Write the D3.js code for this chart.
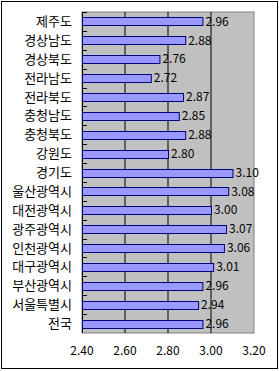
<!DOCTYPE html>
<html>
<head>
<meta charset="utf-8">
<script src="https://cdn.jsdelivr.net/npm/d3@7"></script>
<style>
  body { margin: 0; background: #fff; }
  svg text { font-family: "Noto Sans CJK KR", "DejaVu Sans", sans-serif; fill: #000; }
</style>
</head>
<body>
<div id="chart"></div>
<script>
// regions, top to bottom as drawn
const regions = ['제주도', '경상남도', '경상북도', '전라남도', '전라북도', '충청남도', '충청북도', '강원도',
  '경기도', '울산광역시', '대전광역시', '광주광역시', '인천광역시', '대구광역시', '부산광역시', '서울특별시', '전국']
const scores = [2.96, 2.88, 2.76, 2.72, 2.87, 2.85, 2.88, 2.80,
  3.10, 3.08, 3.00, 3.07, 3.06, 3.01, 2.96, 2.94, 2.96]
const xTicks = [2.40, 2.60, 2.80, 3.00, 3.20]

const width = 279, height = 371
const margin = {top: 12, right: 25, bottom: 38, left: 82}
const plotWidth = width - margin.left - margin.right
const plotHeight = height - margin.top - margin.bottom

const data = regions.map((name, i) => ({name, value: scores[i]}))

const svg = d3.select('#chart').append('svg')
    .attr('width', width)
    .attr('height', height)

// outer frame
svg.append('rect')
    .attr('x', 1.5).attr('y', 1.5)
    .attr('width', 276).attr('height', 367)
    .attr('fill', '#fff')
    .attr('stroke', '#000')

const g = svg.append('g')
    .attr('transform', `translate(${margin.left}, ${margin.top})`)

const xScale = d3.scaleLinear().domain([2.4, 3.2]).range([0, plotWidth])
const yScale = d3.scaleBand().domain(regions).range([0, plotHeight]).paddingInner(0.58).paddingOuter(0.29)
const band = d3.scaleBand().domain(regions).range([0, plotHeight])

// plot background
g.append('rect')
    .attr('width', plotWidth).attr('height', plotHeight)
    .attr('fill', '#c0c0c0')
    .attr('stroke', '#808080')

// vertical gridlines
g.selectAll('.grid').data(xTicks.slice(1, -1)).enter().append('line')
    .attr('x1', d => xScale(d)).attr('x2', d => xScale(d))
    .attr('y1', 0).attr('y2', plotHeight)
    .attr('stroke', '#000')

// left axis line and ticks between categories
g.append('line')
    .attr('x1', 0.5).attr('x2', 0.5).attr('y1', 0).attr('y2', plotHeight)
    .attr('stroke', '#000')
g.selectAll('.ytick').data(regions).enter().append('line')
    .attr('x1', 0).attr('x2', 5)
    .attr('y1', d => Math.round(band(d)) + 0.5).attr('y2', d => Math.round(band(d)) + 0.5)
    .attr('stroke', '#000')

// bars
g.selectAll('.bar').data(data).enter().append('rect')
    .attr('x', 0.5)
    .attr('y', d => Math.round(yScale(d.name)) + 0.5)
    .attr('width', d => xScale(d.value))
    .attr('height', Math.round(yScale.bandwidth()))
    .attr('fill', '#9999ff')
    .attr('stroke', '#000080')

// value labels
g.selectAll('.val').data(data).enter().append('text')
    .attr('x', d => xScale(d.value) + 3)
    .attr('y', d => yScale(d.name) + yScale.bandwidth() / 2)
    .attr('dy', '0.35em')
    .attr('font-size', 12)
    .text(d => d.value.toFixed(2))

// category labels
g.selectAll('.cat').data(regions).enter().append('text')
    .attr('x', -10)
    .attr('y', d => band(d) + band.bandwidth() / 2)
    .attr('dy', '0.35em')
    .attr('text-anchor', 'end')
    .attr('font-size', 13)
    .text(d => d)

// x tick labels
g.selectAll('.xlab').data(xTicks).enter().append('text')
    .attr('x', d => xScale(d))
    .attr('y', plotHeight + 18)
    .attr('dy', '0.35em')
    .attr('text-anchor', 'middle')
    .attr('font-size', 12)
    .text(d => d.toFixed(2))
</script>
</body>
</html>
